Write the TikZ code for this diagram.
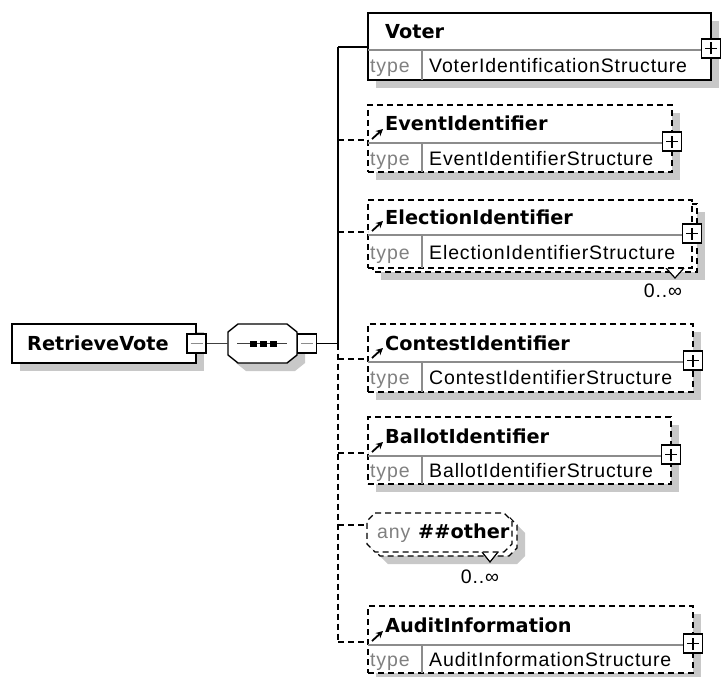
\documentclass[tikz,border=0pt]{standalone}
\usepackage{fontspec}
\usetikzlibrary{arrows.meta}
\newfontfamily\nmfont{DejaVu Sans}
\newfontfamily\tyfont[LetterSpace=4.5]{Liberation Sans}
\definecolor{shadowc}{RGB}{200,200,200}
\definecolor{divc}{RGB}{140,140,140}
\definecolor{typec}{RGB}{128,128,128}
\tikzset{
  frame/.style={draw=black, line width=1.4pt, fill=white},
  dframe/.style={frame, dash pattern=on 6pt off 4pt},
  conn/.style={draw=black, line width=1.4pt},
  dconn/.style={conn, dash pattern=on 6pt off 4pt},
  divline/.style={draw=divc, line width=1.4pt},
  namelbl/.style={font=\nmfont\bfseries\fontsize{19.3}{22}\selectfont, inner sep=0pt, anchor=base west},
  typelbl/.style={font=\tyfont\fontsize{19.5}{22}\selectfont, inner sep=0pt, anchor=base west},
  plusbox/.style={draw, fill=white, line width=1.5pt, minimum size=19pt, inner sep=0pt,
    path picture={\draw[line width=1.6pt]
      ([xshift=-6pt]path picture bounding box.center) -- ([xshift=6pt]path picture bounding box.center)
      ([yshift=-6pt]path picture bounding box.center) -- ([yshift=6pt]path picture bounding box.center);}},
  minusbox/.style={draw, fill=white, line width=1.5pt, minimum size=19pt, inner sep=0pt,
    path picture={\draw[line width=1.6pt, draw=divc]
      ([xshift=-6pt]path picture bounding box.center) -- ([xshift=6pt]path picture bounding box.center);}},
  refarrow/.style={-{Stealth[length=7pt,width=7pt]}, line width=1.8pt},
  notch/.style={draw=black, line width=1.2pt, fill=white},
  cardlbl/.style={font=\tyfont\fontsize{19.5}{22}\selectfont, inner sep=0pt, anchor=center}
}
% #1 id, #2 top, #3 divider, #4 bottom, #5 right, #6 frame style, #7 name, #8 type, #9 ref arrow
\newcommand{\xelem}[9]{%
  \node[#6, anchor=north west, minimum width={#5-368}, minimum height={#4-#2}, inner sep=0pt, outer sep=0pt] (#1) at (368,#2) {};
  \draw[divline] (368,#3) -- (#5,#3);
  \draw[divline] (422,#3) -- (422,#4);
  \node[namelbl] (#1-nm) at (385,{(#2+#3)/2+7}) {#7};
  \node[typelbl, text=typec] (#1-tl) at (370,{(#3+#4)/2+7.5}) {type};
  \node[typelbl] (#1-ty) at (429,{(#3+#4)/2+7.5}) {#8};
  \node[plusbox] (#1-pl) at (#5,{#3-1.5}) {};
  \coordinate (#1-in) at (368,{#3-3});
  \ifnum#9=1 \draw[refarrow] (372,{#3-4}) -- (383,{#3-14});\fi
}
\newcommand{\octo}[5]{(#1+#5,#2) -- (#3-#5,#2) -- (#3,#2+#5) -- (#3,#4-#5) -- (#3-#5,#4) -- (#1+#5,#4) -- (#1,#4-#5) -- (#1,#2+#5) -- cycle}
\begin{document}
\begin{tikzpicture}[x=1pt,y=-1pt]
\useasboundingbox (0,0) rectangle (721,677);
\fill[white] (0,0) rectangle (721,677);
% shadows
\fill[shadowc] (20,332) rectangle (204,371);
\fill[shadowc] (246,332) -- (295,332) -- (305,340) -- (305,363) -- (295,371) -- (246,371) -- (236,363) -- (236,340) -- cycle;
\fill[shadowc] (376,21) rectangle (719,88);
\fill[shadowc] (376,113) rectangle (680,180);
\fill[shadowc] (381,212) rectangle (705,280);
\fill[shadowc] (376,332) rectangle (701,400);
\fill[shadowc] (376,425) rectangle (679,492);
\fill[shadowc] \octo{380}{525}{525}{564}{8};
\fill[shadowc] (376,614) rectangle (701,681);
% root element
\node[frame, anchor=north west, minimum width=184, minimum height=39, inner sep=0pt, outer sep=0pt] (root) at (12,324) {};
\node[namelbl] (root-nm) at (27,350.5) {RetrieveVote};
\node[minusbox] (root-mn) at (196.5,343.5) {};
% sequence compositor
\draw[frame] (238,324) -- (287,324) -- (297,332) -- (297,355) -- (287,363) -- (238,363) -- (228,355) -- (228,332) -- cycle;
\coordinate (seq-in) at (228,343.5);
\draw[line width=1.4pt, draw=black!75] (237,343.5) -- (287,343.5);
\fill (250,340.5) rectangle (256.5,346.5);
\fill (260,340.5) rectangle (266.5,346.5);
\fill (270,340.5) rectangle (276.5,346.5);
\node[minusbox] (seq-mn) at (307,343.5) {};
% trunk
\coordinate (trunkTop) at (338,47);
\coordinate (trunkMid) at (338,343.5);
\coordinate (trunkBot) at (338,642);
\draw[conn, draw=black!75] (root-mn.east) -- (seq-in);
\draw[conn] (seq-mn.east) -- (trunkMid);
\draw[conn] (trunkTop) -- (trunkMid);
\draw[dconn] (trunkMid) -- (trunkBot);
% multiple-occurrence back frames
\draw[dframe] (373,204) rectangle (697,272);
\draw[notch] (666,268) -- (675,278) -- (684,268);
\draw[dframe] \octo{372}{517}{517}{556}{8};
\draw[notch] (482,552) -- (490,562) -- (498,552);
% elements
\xelem{voter}{13}{50}{80}{711}{frame}{Voter}{VoterIdentificationStructure}{0}
\xelem{event}{105}{143}{172}{672}{dframe}{EventIdentifier}{EventIdentifierStructure}{1}
\xelem{election}{200}{235}{268}{692}{dframe}{ElectionIdentifier}{ElectionIdentifierStructure}{1}
\xelem{contest}{324}{362}{392}{693}{dframe}{ContestIdentifier}{ContestIdentifierStructure}{1}
\xelem{ballot}{417}{456}{484}{671}{dframe}{BallotIdentifier}{BallotIdentifierStructure}{1}
\xelem{audit}{606}{645}{673}{693}{dframe}{AuditInformation}{AuditInformationStructure}{1}
% any
\draw[dframe] \octo{367}{513}{512}{552}{8};
\coordinate (any-in) at (367,525);
\node[typelbl, text=typec] (any-tl) at (377,538) {any};
\node[namelbl] (any-nm) at (418,538) {\#\#other};
% cardinality labels
\node[cardlbl] (election-card) at (663,291) {0..∞};
\node[cardlbl] (any-card) at (480,577) {0..∞};
% branch connectors
\coordinate (b-event) at (338,140);
\coordinate (b-election) at (338,232);
\coordinate (b-contest) at (338,359);
\coordinate (b-ballot) at (338,453);
\coordinate (b-any) at (338,525);
\draw[conn] (trunkTop) -- (voter-in);
\draw[dconn] (b-event) -- (event-in);
\draw[dconn] (b-election) -- (election-in);
\draw[dconn] (b-contest) -- (contest-in);
\draw[dconn] (b-ballot) -- (ballot-in);
\draw[dconn] (b-any) -- (any-in);
\draw[dconn] (trunkBot) -- (audit-in);
\end{tikzpicture}
\end{document}
